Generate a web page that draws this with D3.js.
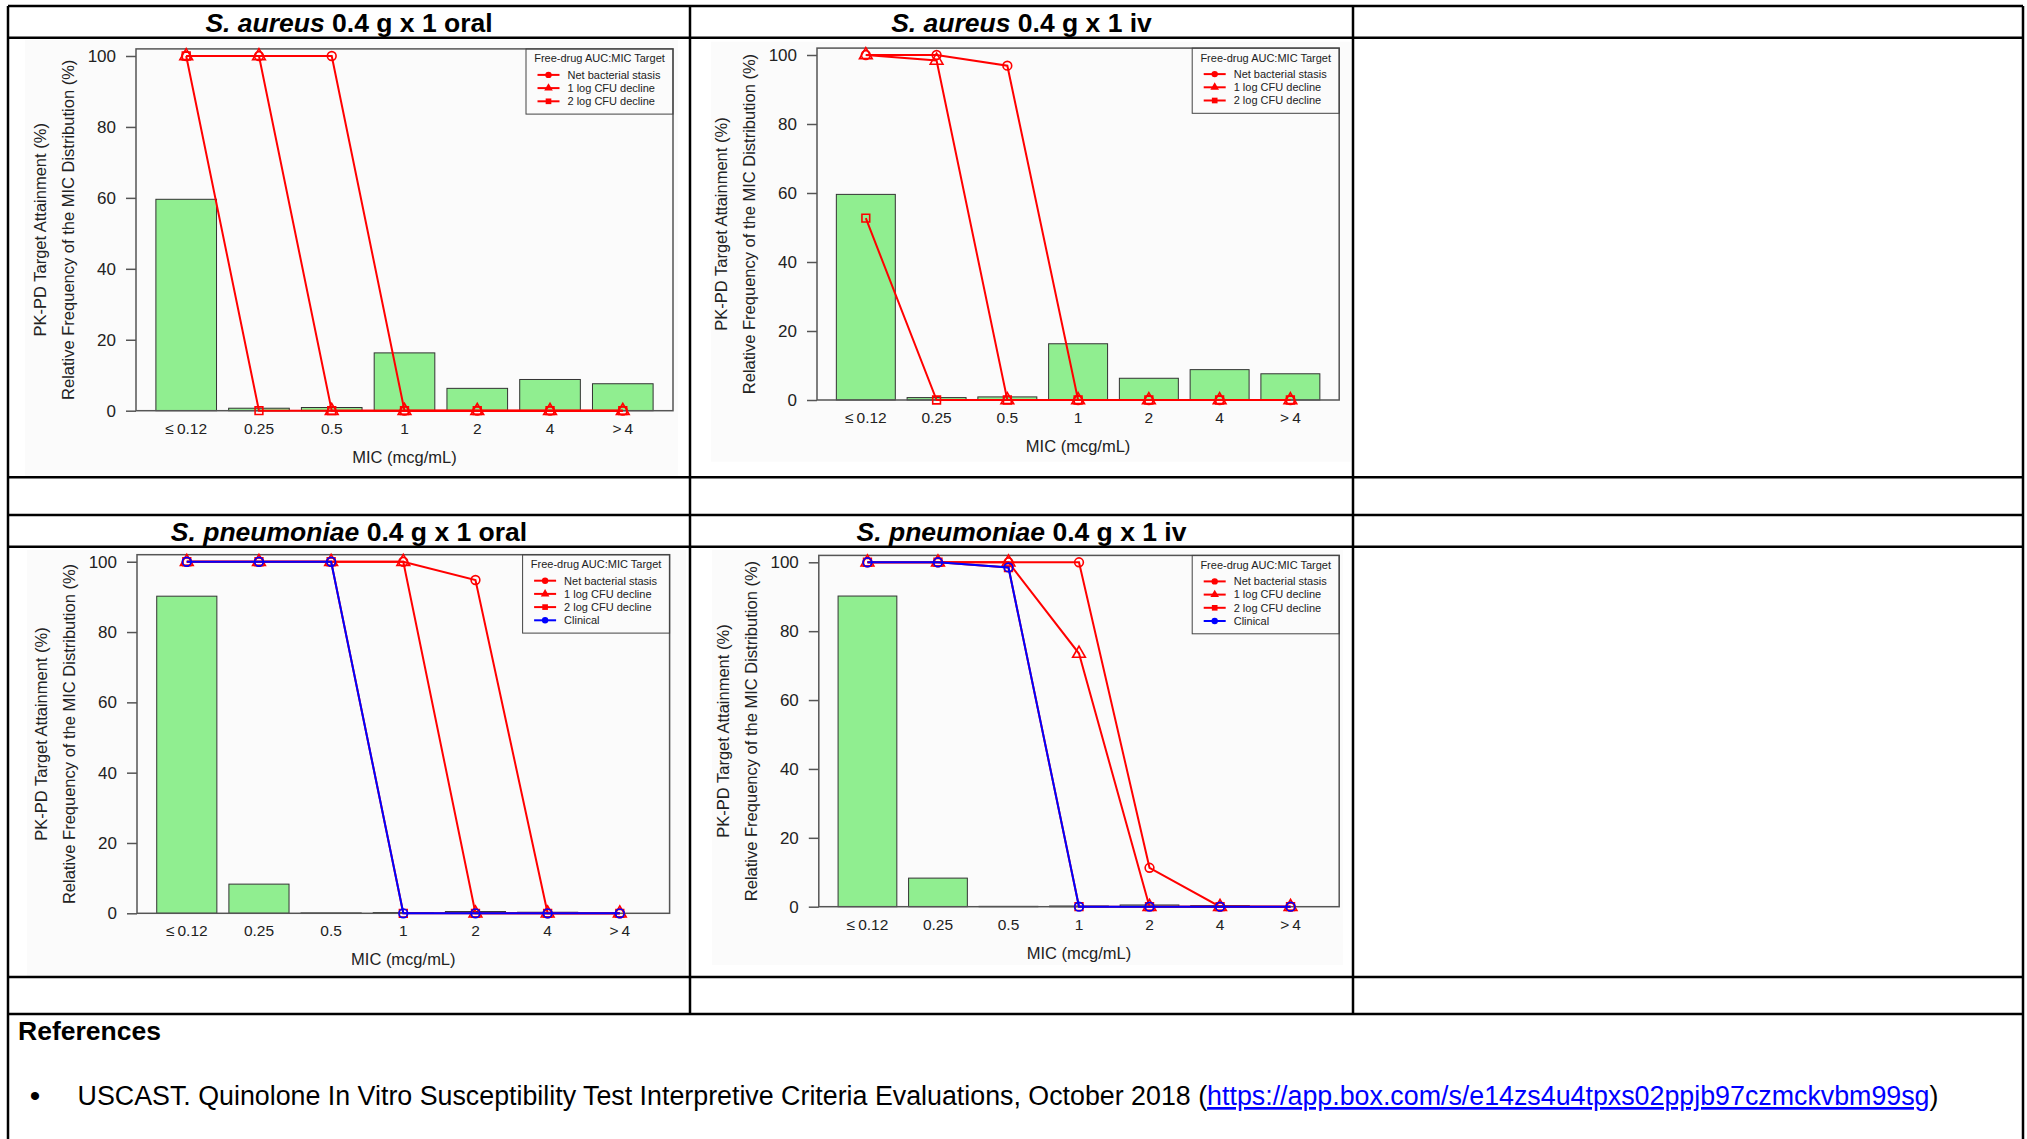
<!DOCTYPE html>
<html>
<head>
<meta charset="utf-8">
<script src="https://cdn.jsdelivr.net/npm/d3@7"></script>
<style>
  html, body { margin: 0; padding: 0; background: #fff; }
  svg { display: block; }
  text { font-family: "Liberation Sans", Arial, Helvetica, sans-serif; }
</style>
</head>
<body>
<div id="chart"></div>
<script>
/* PK-PD target attainment vs MIC distribution, four panels in a report table */

// ── Data ──
var MIC_LABELS = ['\u2264\u20090.12', '0.25', '0.5', '1', '2', '4', '>\u20094'];
var Y_TICKS = [0, 20, 40, 60, 80, 100];
var SERIES_NAMES = ['Net bacterial stasis', '1 log CFU decline', '2 log CFU decline', 'Clinical'];

// relative frequency of the MIC distribution (%)
var SA_MIC_FREQ = [59.6, 0.7, 0.9, 16.3, 6.3, 8.8, 7.6];
var SP_MIC_FREQ = [90.2, 8.3, 0.1, 0.2, 0.5, 0.3, 0];

// PK-PD target attainment (%)
var SA_ORAL_STASIS = [100, 100, 100, 0, 0, 0, 0];
var SA_ORAL_1LOG = [100, 100, 0, 0, 0, 0, 0];
var SA_ORAL_2LOG = [100, 0, 0, 0, 0, 0, 0];

var SA_IV_STASIS = [100, 100, 96.9, 0, 0, 0, 0];
var SA_IV_1LOG = [100, 98.4, 0, 0, 0, 0, 0];
var SA_IV_2LOG = [52.7, 0, 0, 0, 0, 0, 0];

var SP_ORAL_STASIS = [100, 100, 100, 100, 94.8, 0, 0];
var SP_ORAL_1LOG = [100, 100, 100, 100, 0, 0, 0];
var SP_ORAL_2LOG = [100, 100, 100, 0, 0, 0, 0];
var SP_ORAL_CLINICAL = [100, 100, 100, 0, 0, 0, 0];

var SP_IV_STASIS = [100, 100, 100, 100, 11.3, 0, 0];
var SP_IV_1LOG = [100, 100, 100, 73.5, 0, 0, 0];
var SP_IV_2LOG = [100, 100, 98.5, 0, 0, 0, 0];
var SP_IV_CLINICAL = [100, 100, 98.5, 0, 0, 0, 0];

(function () {
  'use strict';

  // ── Constants ──
  var WIDTH = 2027;
  var HEIGHT = 1139;
  var FONT = '"Liberation Sans", Arial, Helvetica, sans-serif';
  var RED = '#ff0000';
  var BLUE = '#0000ff';
  var BAR_FILL = '#90ee90';
  var TEXT_COLOR = '#222';
  var SERIES_STYLE = [
    { color: RED, shape: d3.symbolCircle },
    { color: RED, shape: d3.symbolTriangle },
    { color: RED, shape: d3.symbolSquare },
    { color: BLUE, shape: d3.symbolCircle }
  ];
  // R barplot geometry: bars of width 1, space 0.2, xlim padded 4%
  var X_DOMAIN = [-0.128, 8.728];

  // table grid
  var COLS = [8, 690, 1353, 2023];
  var ROWS = [6, 37.7, 477.3, 515, 546.7, 977, 1014];

  // panel placement (pixels) — box: left, right, bottom (y=0), top (y=102)
  var PANELS = [
    { species: 'S. aureus', rest: ' 0.4 g x 1 oral', col: 0, titleRow: 0,
      freq: SA_MIC_FREQ, series: [SA_ORAL_STASIS, SA_ORAL_1LOG, SA_ORAL_2LOG],
      bg: [25, 40, 678, 477], box: [136, 673, 410.7, 48.9] },
    { species: 'S. aureus', rest: ' 0.4 g x 1 iv', col: 1, titleRow: 0,
      freq: SA_MIC_FREQ, series: [SA_IV_STASIS, SA_IV_1LOG, SA_IV_2LOG],
      bg: [711, 41.7, 1351, 461.7], box: [817, 1339.2, 400, 48.1] },
    { species: 'S. pneumoniae', rest: ' 0.4 g x 1 oral', col: 0, titleRow: 3,
      freq: SP_MIC_FREQ, series: [SP_ORAL_STASIS, SP_ORAL_1LOG, SP_ORAL_2LOG, SP_ORAL_CLINICAL],
      bg: [27, 550, 686, 976], box: [137, 669.6, 913.3, 554.7] },
    { species: 'S. pneumoniae', rest: ' 0.4 g x 1 iv', col: 1, titleRow: 3,
      freq: SP_MIC_FREQ, series: [SP_IV_STASIS, SP_IV_1LOG, SP_IV_2LOG, SP_IV_CLINICAL],
      bg: [712, 550, 1343, 965], box: [818.8, 1339.2, 906.7, 555.4] }
  ];

  var svg = d3.select('#chart')
    .append('svg')
    .attr('width', WIDTH)
    .attr('height', HEIGHT)
    .attr('viewBox', '0 0 ' + WIDTH + ' ' + HEIGHT);

  function barCenter(i) { return 0.7 + 1.2 * i; }

  // ── One chart panel ──
  function drawPanel(p) {
    var left = p.box[0], right = p.box[1], bottom = p.box[2], top = p.box[3];
    var g = svg.append('g');

    // title cell
    var title = g.append('text')
      .attr('x', (COLS[p.col] + COLS[p.col + 1]) / 2)
      .attr('y', ROWS[p.titleRow] + 25.5)
      .attr('text-anchor', 'middle')
      .attr('font-size', '26.5px')
      .attr('font-weight', 'bold')
      .attr('fill', '#000');
    title.append('tspan').attr('font-style', 'italic').text(p.species);
    title.append('tspan').text(p.rest);

    // plot image background
    g.append('rect')
      .attr('x', p.bg[0]).attr('y', p.bg[1])
      .attr('width', p.bg[2] - p.bg[0]).attr('height', p.bg[3] - p.bg[1])
      .attr('fill', '#fbfbfb');

    var x = d3.scaleLinear().domain(X_DOMAIN).range([left, right]);
    var y = d3.scaleLinear().domain([0, 102]).range([bottom, top]);

    // bars
    g.append('g').selectAll('rect')
      .data(p.freq)
      .join('rect')
      .attr('x', function (d, i) { return x(barCenter(i) - 0.5); })
      .attr('width', function (d, i) { return x(barCenter(i) + 0.5) - x(barCenter(i) - 0.5); })
      .attr('y', function (d) { return y(d); })
      .attr('height', function (d) { return bottom - y(d); })
      .attr('fill', BAR_FILL)
      .attr('stroke', '#333')
      .attr('stroke-width', 1);

    // plot box
    g.append('rect')
      .attr('x', left).attr('y', top)
      .attr('width', right - left).attr('height', bottom - top)
      .attr('fill', 'none')
      .attr('stroke', '#555')
      .attr('stroke-width', 1.5);

    // target attainment lines
    var line = d3.line()
      .x(function (d, i) { return x(barCenter(i)); })
      .y(function (d) { return y(d); });

    p.series.forEach(function (values, s) {
      var st = SERIES_STYLE[s];
      var sg = g.append('g');
      sg.append('path')
        .attr('d', line(values))
        .attr('fill', 'none')
        .attr('stroke', st.color)
        .attr('stroke-width', 2);
      sg.selectAll('path.pt')
        .data(values)
        .join('path')
        .attr('class', 'pt')
        .attr('transform', function (d, i) { return 'translate(' + x(barCenter(i)) + ',' + y(d) + ')'; })
        .attr('d', d3.symbol().type(st.shape).size(st.shape === d3.symbolTriangle ? 70 : 60))
        .attr('fill', 'none')
        .attr('stroke', st.color)
        .attr('stroke-width', 1.6);
    });

    // y axis
    var yAxis = g.append('g')
      .attr('transform', 'translate(' + left + ',0)')
      .call(d3.axisLeft(y).tickValues(Y_TICKS).tickSize(10).tickPadding(10));
    yAxis.select('.domain').remove();
    yAxis.selectAll('line').attr('stroke', '#555').attr('stroke-width', 1.5);
    yAxis.selectAll('text')
      .attr('font-size', '17px')
      .attr('font-family', FONT)
      .attr('fill', TEXT_COLOR);

    // x category labels (no ticks, as in barplot)
    g.append('g').selectAll('text')
      .data(MIC_LABELS)
      .join('text')
      .attr('x', function (d, i) { return x(barCenter(i)); })
      .attr('y', bottom + 23)
      .attr('text-anchor', 'middle')
      .attr('font-size', '15.5px')
      .attr('fill', TEXT_COLOR)
      .text(function (d) { return d; });

    g.append('text')
      .attr('x', (left + right) / 2)
      .attr('y', bottom + 52)
      .attr('text-anchor', 'middle')
      .attr('font-size', '16.5px')
      .attr('fill', TEXT_COLOR)
      .text('MIC (mcg/mL)');

    // two-line y axis title
    var yMid = (top + bottom) / 2;
    [['PK-PD Target Attainment (%)', 96], ['Relative Frequency of the MIC Distribution (%)', 68]]
      .forEach(function (t) {
        g.append('text')
          .attr('transform', 'translate(' + (left - t[1]) + ',' + yMid + ') rotate(-90)')
          .attr('dy', '0.35em')
          .attr('text-anchor', 'middle')
          .attr('font-size', '16.5px')
          .attr('fill', TEXT_COLOR)
          .text(t[0]);
      });

    // legend, anchored to top-right of the box
    var n = p.series.length;
    var lw = 147;
    var lh = 26 + 13.2 * (n - 1) + 12.8;
    var lg = g.append('g').attr('transform', 'translate(' + (right - lw) + ',' + top + ')');
    lg.append('rect')
      .attr('width', lw).attr('height', lh)
      .attr('fill', 'none')
      .attr('stroke', '#444')
      .attr('stroke-width', 1);
    lg.append('text')
      .attr('x', lw / 2).attr('y', 13.6)
      .attr('text-anchor', 'middle')
      .attr('font-size', '11px')
      .attr('fill', TEXT_COLOR)
      .text('Free-drug AUC:MIC Target');
    var rows = lg.selectAll('g.row')
      .data(SERIES_NAMES.slice(0, n))
      .join('g')
      .attr('class', 'row')
      .attr('transform', function (d, i) { return 'translate(0,' + (26 + 13.2 * i) + ')'; });
    rows.append('line')
      .attr('x1', 11.5).attr('x2', 33.5)
      .attr('stroke', function (d, i) { return SERIES_STYLE[i].color; })
      .attr('stroke-width', 2);
    rows.append('path')
      .attr('transform', 'translate(22.5,0)')
      .attr('d', function (d, i) { return d3.symbol().type(SERIES_STYLE[i].shape).size(32)(); })
      .attr('fill', function (d, i) { return SERIES_STYLE[i].color; });
    rows.append('text')
      .attr('x', 41.5)
      .attr('dy', '0.35em')
      .attr('font-size', '11px')
      .attr('fill', TEXT_COLOR)
      .text(function (d) { return d; });
  }

  PANELS.forEach(drawPanel);

  // ── References cell ──
  svg.append('text')
    .attr('x', 18).attr('y', 1040)
    .attr('font-size', '26.5px')
    .attr('font-weight', 'bold')
    .text('References');

  svg.append('text')
    .attr('x', 35).attr('y', 1106)
    .attr('text-anchor', 'middle')
    .attr('font-size', '30px')
    .text('\u2022');

  var ref = svg.append('text')
    .attr('x', 77.6).attr('y', 1105)
    .attr('font-size', '26.8px')
    .attr('fill', '#000');
  ref.append('tspan').text('USCAST. Quinolone In Vitro Susceptibility Test Interpretive Criteria Evaluations, October 2018 (');
  ref.append('tspan')
    .attr('fill', '#0000ff')
    .style('text-decoration', 'underline')
    .text('https://app.box.com/s/e14zs4u4tpxs02ppjb97czmckvbm99sg');
  ref.append('tspan').text(')');

  // ── Table grid ──
  var grid = svg.append('g')
    .attr('stroke', '#000')
    .attr('stroke-width', 2.5);

  grid.selectAll('line.h')
    .data(ROWS)
    .join('line')
    .attr('class', 'h')
    .attr('x1', COLS[0]).attr('x2', COLS[3])
    .attr('y1', function (d) { return d; }).attr('y2', function (d) { return d; });

  grid.selectAll('line.v')
    .data(COLS)
    .join('line')
    .attr('class', 'v')
    .attr('x1', function (d) { return d; }).attr('x2', function (d) { return d; })
    .attr('y1', ROWS[0])
    .attr('y2', function (d, i) { return (i === 0 || i === 3) ? HEIGHT : ROWS[6]; });
})();
</script>
</body>
</html>
